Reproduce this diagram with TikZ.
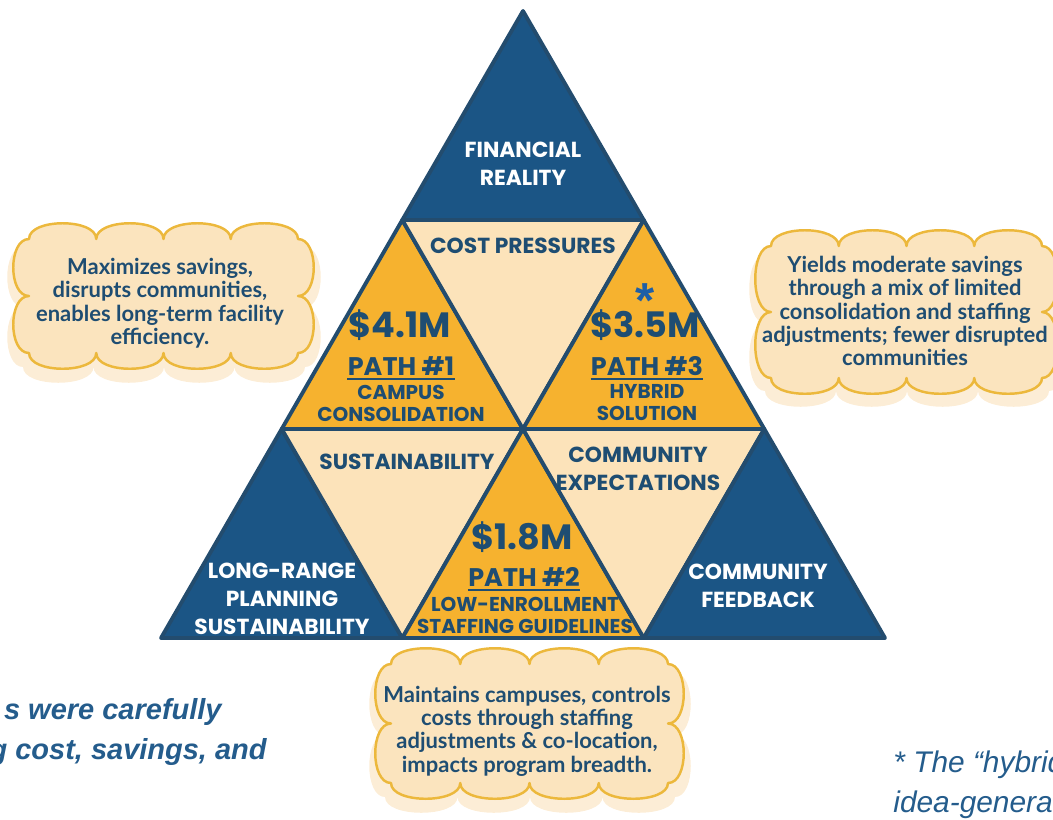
\documentclass[tikz,border=0pt]{standalone}
\usepackage{fontspec}
\usepackage{tikz}

\setmainfont{Poppins}
\newfontfamily\cloudfont{Lato}
\newfontfamily\notefont{Liberation Sans}

\definecolor{navy}{HTML}{1B5585}
\definecolor{edge}{HTML}{234C6E}
\definecolor{gold}{HTML}{F6B22F}
\definecolor{cream}{HTML}{FCE3BA}
\definecolor{ink}{HTML}{1E4D72}
\definecolor{cloudfill}{HTML}{FBE4BE}
\definecolor{cloudshade}{HTML}{FCEDD6}
\definecolor{cloudline}{HTML}{ECB83C}
\definecolor{notecol}{HTML}{245C8C}
\definecolor{starblue}{HTML}{1F5FA6}

% scalloped cloud: style, top-left corner, bottom-right corner
\newcommand{\puffcloud}[5]{%
	\path[#1] (#2,#3)
	\foreach \k [evaluate=\k as \px using #2+(#4-#2)*\k/4] in {1,...,4} { .. controls +(0,-21) and +(0,-21) .. (\px,#3) }
	\foreach \k [evaluate=\k as \py using #3+(#5-#3)*\k/2] in {1,2} { .. controls +(21,0) and +(21,0) .. (#4,\py) }
	\foreach \k [evaluate=\k as \px using #4-(#4-#2)*\k/4] in {1,...,4} { .. controls +(0,21) and +(0,21) .. (\px,#5) }
	\foreach \k [evaluate=\k as \py using #5-(#5-#3)*\k/2] in {1,2} { .. controls +(-21,0) and +(-21,0) .. (#2,\py) }
	-- cycle;}

\begin{document}
\begin{tikzpicture}[x=0.02cm, y=-0.02cm,
	tri/.style={draw=edge, line width=2.2pt, line join=round},
	lbl/.style={font=\bfseries\fontsize{12.4}{16}\selectfont, align=center, inner sep=0pt},
	whitelbl/.style={lbl, text=white},
	inklbl/.style={lbl, text=ink},
	money/.style={inklbl, font=\bfseries\fontsize{20}{22}\selectfont},
	pathlbl/.style={inklbl, font=\bfseries\fontsize{14.5}{16}\selectfont},
	sublbl/.style={inklbl, font=\bfseries\fontsize{11.4}{12.5}\selectfont},
	uline/.style={draw=ink, line width=1.1pt},
	puffline/.style={draw=cloudline, line width=1.4pt, fill=cloudfill, line join=round},
	puffshade/.style={fill=cloudshade},
	cloudtext/.style={font=\cloudfont\bfseries\fontsize{12.5}{13.3}\selectfont,
		text=ink, align=center, inner sep=0pt},
	note/.style={font=\notefont\bfseries\itshape\fontsize{16.5}{20}\selectfont,
		text=notecol, inner sep=0pt}]
	\useasboundingbox (0,0) rectangle (1053,819);

	% clouds
	\puffcloud{puffshade}{23}{247}{305}{367}
	\puffcloud{puffline}{29}{239}{298}{353}
	\node[cloudtext] (tx1) at (160,303) {Maximizes savings,\\disrupts communities,\\enables long-term facility\\efficiency.};

	\puffcloud{puffshade}{765}{255}{1049}{391}
	\puffcloud{puffline}{771}{246}{1042}{378}
	\node[cloudtext] (tx3) at (905,311) {Yields moderate savings\\through a mix of limited\\consolidation and staffing\\adjustments; fewer disrupted\\communities};

	\puffcloud{puffshade}{385}{673}{675}{797}
	\puffcloud{puffline}{391}{664}{668}{783}
	\node[cloudtext] (tx2) at (527,731) {Maintains campuses, controls\\costs through staffing\\adjustments \& co-location,\\impacts program breadth.};

	% triangle grid
	\coordinate (A) at (523,11);
	\coordinate (B1) at (402.3,220);
	\coordinate (B2) at (643.7,220);
	\coordinate (C1) at (281.7,429);
	\coordinate (C2) at (523,429);
	\coordinate (C3) at (764.3,429);
	\coordinate (D1) at (161,638);
	\coordinate (D2) at (402.3,638);
	\coordinate (D3) at (643.7,638);
	\coordinate (D4) at (885,638);

	\filldraw[tri, fill=navy] (A) -- (B1) -- (B2) -- cycle;
	\filldraw[tri, fill=gold] (B1) -- (C1) -- (C2) -- cycle;
	\filldraw[tri, fill=cream] (B1) -- (B2) -- (C2) -- cycle;
	\filldraw[tri, fill=gold] (B2) -- (C2) -- (C3) -- cycle;
	\filldraw[tri, fill=navy] (C1) -- (D1) -- (D2) -- cycle;
	\filldraw[tri, fill=cream] (C1) -- (C2) -- (D2) -- cycle;
	\filldraw[tri, fill=gold] (C2) -- (D2) -- (D3) -- cycle;
	\filldraw[tri, fill=cream] (C2) -- (C3) -- (D3) -- cycle;
	\filldraw[tri, fill=navy] (C3) -- (D3) -- (D4) -- cycle;

	% labels
	\node[whitelbl] (fin) at (523,164) {FINANCIAL\\REALITY};
	\node[inklbl] (cost) at (523,246) {COST PRESSURES};

	\node[money] (m1) at (400,325) {\$4.1M};
	\node[pathlbl] (p1) at (401,366) {PATH \#1};
	\draw[uline] ([yshift=-2pt]p1.base west) -- ([yshift=-2pt]p1.base east);
	\node[sublbl] (s1) at (401,403) {CAMPUS\\CONSOLIDATION};

	\node[font=\notefont\bfseries\fontsize{28}{28}\selectfont, text=starblue, inner sep=0pt] (ast) at (645,317) {\raisebox{0pt}[0pt][0pt]{*}};
	\node[money] (m3) at (645,325) {\$3.5M};
	\node[pathlbl] (p3) at (647,366) {PATH \#3};
	\draw[uline] ([yshift=-2pt]p3.base west) -- ([yshift=-2pt]p3.base east);
	\node[sublbl] (s3) at (647,403) {HYBRID\\SOLUTION};

	\node[inklbl] (sus) at (407,462) {SUSTAINABILITY};
	\node[inklbl] (cexp) at (638,469) {COMMUNITY\\EXPECTATIONS};

	\node[money] (m2) at (522,537) {\$1.8M};
	\node[pathlbl] (p2) at (524,577) {PATH \#2};
	\draw[uline] ([yshift=-2pt]p2.base west) -- ([yshift=-2pt]p2.base east);
	\node[sublbl] (s2) at (525,615) {LOW-ENROLLMENT\\STAFFING GUIDELINES};

	\node[whitelbl] (lrp) at (282,599) {LONG-RANGE\\PLANNING\\SUSTAINABILITY};
	\node[whitelbl] (cfb) at (758,586) {COMMUNITY\\FEEDBACK};

	% notes cut at the page edges
	\node[note, anchor=east] (n1) at (222,712) {s were carefully};
	\node[note, anchor=east] (n2) at (267,752) {g cost, savings, and};
	\node[note, anchor=west, font=\notefont\itshape\fontsize{17}{20}\selectfont] (n3) at (893,765) {* The “hybrid};
	\node[note, anchor=west, font=\notefont\itshape\fontsize{17}{20}\selectfont] (n4) at (893,805) {idea-generat};
\end{tikzpicture}
\end{document}
